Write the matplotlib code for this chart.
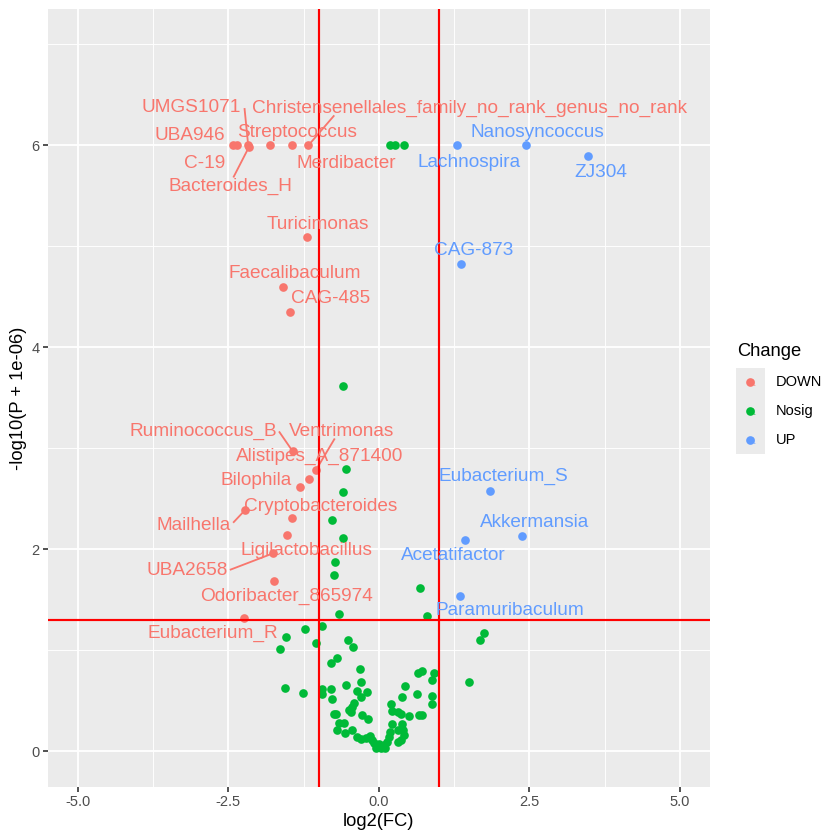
import numpy as np
import matplotlib
matplotlib.use("Agg")
import matplotlib.pyplot as plt
from matplotlib.patches import Rectangle

plt.rcParams['font.family'] = ['Liberation Sans', 'DejaVu Sans']

# significant, down-regulated genera
down_names = ['UBA946', 'C-19', 'UMGS1071', 'Bacteroides_H', 'Streptococcus',
              'Merdibacter', 'Christensenellales_family_no_rank_genus_no_rank',
              'Turicimonas', 'Faecalibaculum', 'CAG-485', 'Ruminococcus_B',
              'Ventrimonas', 'Alistipes_A_871400', 'Bilophila', 'Mailhella',
              'Cryptobacteroides', 'Ligilactobacillus', 'UBA2658',
              'Odoribacter_865974', 'Eubacterium_R']
down_fc = [-2.43, -2.36, -2.17, -2.16, -1.81, -1.45, -1.17, -1.20, -1.59, -1.48,
           -1.43, -1.04, -1.16, -1.31, -2.22, -1.44, -1.52, -1.76, -1.74, -2.24]
down_p = [6.00, 6.00, 6.00, 5.98, 6.00, 6.00, 6.00, 5.09, 4.60, 4.35,
          2.97, 2.79, 2.70, 2.62, 2.39, 2.31, 2.14, 1.96, 1.69, 1.32]

# significant, up-regulated genera
up_names = ['Lachnospira', 'Nanosyncoccus', 'ZJ304', 'CAG-873', 'Eubacterium_S',
            'Akkermansia', 'Acetatifactor', 'Paramuribaculum']
up_fc = [1.30, 2.44, 3.48, 1.36, 1.85, 2.38, 1.43, 1.35]
up_p = [6.00, 6.00, 5.89, 4.83, 2.58, 2.13, 2.09, 1.54]

# the rest (not significant)
nosig_fc = [0.19, 0.26, 0.41, -0.60, -0.55, -0.59, -0.78, -0.59, -0.72, -0.74,
            0.69, -0.66, 0.80, -0.94, -1.22, -1.54, -1.05, -0.52, -0.43, -1.65,
            1.74, 1.68, 1.49, -0.69, -0.79, -0.32, -0.55, -0.30, -1.56, -1.26,
            -0.94, -0.94, -0.79, -0.77, -0.37, -0.20, -0.30, -0.42, -0.44, -0.47,
            -0.50, -0.75, -0.71, -0.28, -0.18, -0.66, -0.58, -0.69, -0.56, -0.44,
            -0.36, -0.30, -0.22, -0.14, -0.11, -0.08, -0.03, 0.03, 0.08, 0.14,
            0.19, 0.17, 0.22, 0.31, 0.38, 0.40, 0.42, 0.36, 0.31, 0.21,
            0.22, 0.31, 0.36, 0.50, 0.38, 0.44, 0.64, 0.72, 0.65, 0.72,
            0.88, 0.91, 0.88, 0.88, 0.67, -0.05, 0.11, 0.00]
nosig_p = [6.00, 6.00, 6.00, 3.62, 2.80, 2.57, 2.29, 2.11, 1.87, 1.75,
           1.62, 1.36, 1.34, 1.24, 1.21, 1.13, 1.07, 1.10, 1.03, 1.01,
           1.17, 1.10, 0.69, 0.92, 0.87, 0.82, 0.66, 0.69, 0.63, 0.58,
           0.62, 0.57, 0.62, 0.52, 0.60, 0.59, 0.54, 0.48, 0.44, 0.39,
           0.41, 0.37, 0.37, 0.36, 0.32, 0.28, 0.28, 0.21, 0.18, 0.21,
           0.14, 0.12, 0.13, 0.15, 0.11, 0.08, 0.04, 0.03, 0.06, 0.09,
           0.19, 0.14, 0.27, 0.21, 0.27, 0.21, 0.16, 0.11, 0.09, 0.47,
           0.40, 0.39, 0.37, 0.35, 0.54, 0.65, 0.57, 0.36, 0.78, 0.80,
           0.71, 0.78, 0.55, 0.47, 0.36, 0.03, 0.03, 0.07]

label_xy = {
    'UMGS1071': (-3.11, 6.37), 'Christensenellales_family_no_rank_genus_no_rank': (1.51, 6.37),
    'UBA946': (-3.14, 6.10), 'Streptococcus': (-1.36, 6.13), 'C-19': (-2.90, 5.82),
    'Merdibacter': (-0.54, 5.82), 'Bacteroides_H': (-2.46, 5.59),
    'Turicimonas': (-1.01, 5.22), 'Faecalibaculum': (-1.39, 4.73), 'CAG-485': (-0.81, 4.48),
    'Ruminococcus_B': (-2.92, 3.17), 'Ventrimonas': (-0.62, 3.17),
    'Alistipes_A_871400': (-0.98, 2.92), 'Bilophila': (-2.04, 2.68),
    'Cryptobacteroides': (-0.97, 2.42), 'Mailhella': (-3.08, 2.24),
    'Ligilactobacillus': (-1.21, 1.99), 'UBA2658': (-3.18, 1.79),
    'Odoribacter_865974': (-1.54, 1.53), 'Eubacterium_R': (-2.76, 1.17),
    'Lachnospira': (1.50, 5.83), 'Nanosyncoccus': (2.64, 6.13), 'ZJ304': (3.69, 5.73),
    'CAG-873': (1.57, 4.96), 'Eubacterium_S': (2.06, 2.72), 'Akkermansia': (2.59, 2.27),
    'Acetatifactor': (1.24, 1.94), 'Paramuribaculum': (2.17, 1.39),
}
# label end of the connector segments (data units)
segment_end = {
    'UMGS1071': (-2.23, 6.36),
    'Christensenellales_family_no_rank_genus_no_rank': (-0.75, 6.29),
    'Bacteroides_H': (-2.41, 5.69),
    'Ruminococcus_B': (-1.65, 3.16),
    'Ventrimonas': (-0.74, 3.09),
    'Mailhella': (-2.41, 2.27),
    'UBA2658': (-2.46, 1.80),
}

colors = {'DOWN': '#F8766D', 'Nosig': '#00BA38', 'UP': '#619CFF'}
W = 840.0

fig = plt.figure(figsize=(7, 7), dpi=120)
ax = fig.add_axes([47.7 / W, 53.3 / W, 662.3 / W, 777.7 / W])
ax.set_facecolor('#EBEBEB')
for s in ax.spines.values():
    s.set_visible(False)
ax.set_xlim(-5.5, 5.5)
ax.set_ylim(-0.35, 7.35)
ax.set_xticks([-5, -2.5, 0, 2.5, 5])
ax.set_xticklabels(['-5.0', '-2.5', '0.0', '2.5', '5.0'])
ax.set_yticks([0, 2, 4, 6])
ax.set_xticks([-3.75, -1.25, 1.25, 3.75], minor=True)
ax.set_yticks([1, 3, 5, 7], minor=True)
ax.grid(which='major', color='white', lw=1.1)
ax.grid(which='minor', color='white', lw=0.55)
ax.set_axisbelow(True)
ax.tick_params(which='major', length=2.75, width=1.0, color='#333333',
               labelcolor='#4D4D4D', labelsize=8.8, pad=2.2)
ax.tick_params(which='minor', length=0)
ax.set_xlabel('log2(FC)', fontsize=11, labelpad=2.5)
ax.set_ylabel('-log10(P + 1e-06)', fontsize=11, labelpad=2.75)

ax.scatter(nosig_fc, nosig_p, s=27, c=colors['Nosig'], linewidths=0, zorder=3)
ax.scatter(down_fc, down_p, s=27, c=colors['DOWN'], linewidths=0, zorder=3)
ax.scatter(up_fc, up_p, s=27, c=colors['UP'], linewidths=0, zorder=3)

ax.axvline(-1, color='red', lw=1.3, zorder=4)
ax.axvline(1, color='red', lw=1.3, zorder=4)
ax.axhline(-np.log10(0.05), color='red', lw=1.3, zorder=4)

for names, fc, p, key in [(down_names, down_fc, down_p, 'DOWN'),
                          (up_names, up_fc, up_p, 'UP')]:
    for n, x, y in zip(names, fc, p):
        lx, ly = label_xy[n]
        ax.text(lx, ly, n, ha='center', va='center', fontsize=11.4,
                color=colors[key], zorder=5)
        if n in segment_end:
            ex, ey = segment_end[n]
            ax.plot([x, ex], [y, ey], color=colors[key], lw=1.1, zorder=2.5)

# legend, drawn by hand in figure pixels
def fx(v):
    return v / W

def fy(v):
    return 1 - v / W

fig.text(fx(737), fy(351), 'Change', fontsize=11, ha='left', va='center')
for i, key in enumerate(['DOWN', 'Nosig', 'UP']):
    yc = 382 + i * 28.8
    fig.add_artist(Rectangle((fx(736), fy(yc + 14.4)), 28.8 / W, 28.8 / W,
                             transform=fig.transFigure, facecolor='#EBEBEB',
                             edgecolor='none'))
    fig.add_artist(plt.Line2D([fx(750.4)], [fy(yc)], marker='o', ms=5.2,
                              color=colors[key], mec='none', transform=fig.transFigure))
    fig.text(fx(751.5), fy(yc + 1.5), 'a', fontsize=8, color=colors[key], alpha=0.6,
             ha='center', va='center')
    fig.text(fx(775.5), fy(yc), key, fontsize=8.8, ha='left', va='center')

fig.savefig('out.png', dpi=120)
